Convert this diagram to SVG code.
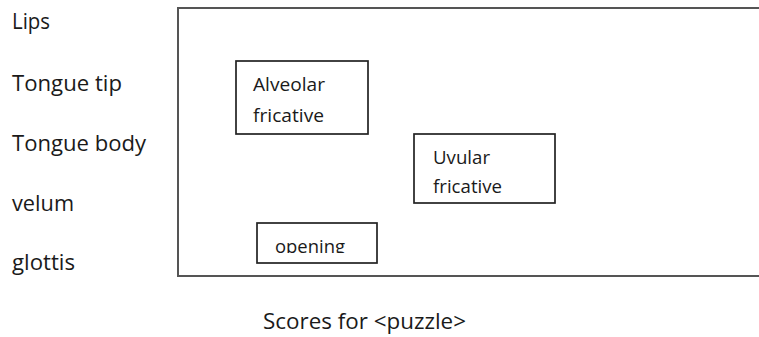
<svg xmlns="http://www.w3.org/2000/svg" width="759" height="337" viewBox="0 0 759 337">
  <style>
    .lbl { font-family: "Open Sans", "Liberation Sans", sans-serif; font-size: 21px; fill: #1a1a1a; }
    .box-txt { font-family: "Open Sans", "Liberation Sans", sans-serif; font-size: 18px; fill: #1a1a1a; }
    .frame { fill: none; stroke: #555; stroke-width: 2; }
    .box { fill: #fff; stroke: #222; stroke-width: 1.7; }
  </style>
  <defs>
    <clipPath id="open-clip">
      <rect x="257" y="223" width="120" height="30"/>
    </clipPath>
  </defs>
  <rect width="759" height="337" fill="#fff"/>

  <!-- articulator labels -->
  <g id="articulators">
    <text class="lbl" x="12" y="29" textLength="38" lengthAdjust="spacingAndGlyphs">Lips</text>
    <text class="lbl" x="12" y="90.5" textLength="110" lengthAdjust="spacingAndGlyphs">Tongue tip</text>
    <text class="lbl" x="12" y="151" textLength="134" lengthAdjust="spacingAndGlyphs">Tongue body</text>
    <text class="lbl" x="12" y="210.5" textLength="62" lengthAdjust="spacingAndGlyphs">velum</text>
    <text class="lbl" x="12" y="270" textLength="63" lengthAdjust="spacingAndGlyphs">glottis</text>
  </g>

  <!-- score frame -->
  <g id="frame">
    <rect class="frame" x="178" y="8" width="620" height="268"/>
  </g>

  <g id="alveolar">
    <rect class="box" x="236" y="61" width="132" height="73"/>
    <text class="box-txt" x="253" y="90.5" textLength="72" lengthAdjust="spacingAndGlyphs">Alveolar</text>
    <text class="box-txt" x="253" y="121.5" textLength="71" lengthAdjust="spacingAndGlyphs">fricative</text>
  </g>

  <g id="uvular">
    <rect class="box" x="414" y="134" width="141" height="69"/>
    <text class="box-txt" x="433" y="164" textLength="57" lengthAdjust="spacingAndGlyphs">Uvular</text>
    <text class="box-txt" x="433" y="193" textLength="69" lengthAdjust="spacingAndGlyphs">fricative</text>
  </g>

  <g id="opening">
    <rect class="box" x="257" y="223" width="120" height="40"/>
    <text class="box-txt" x="275" y="252.5" textLength="70" lengthAdjust="spacingAndGlyphs" clip-path="url(#open-clip)">opening</text>
  </g>

  <g id="connectors"/>

  <g id="caption">
    <text class="lbl" x="263" y="329" textLength="203" lengthAdjust="spacingAndGlyphs">Scores for &lt;puzzle&gt;</text>
  </g>
</svg>
